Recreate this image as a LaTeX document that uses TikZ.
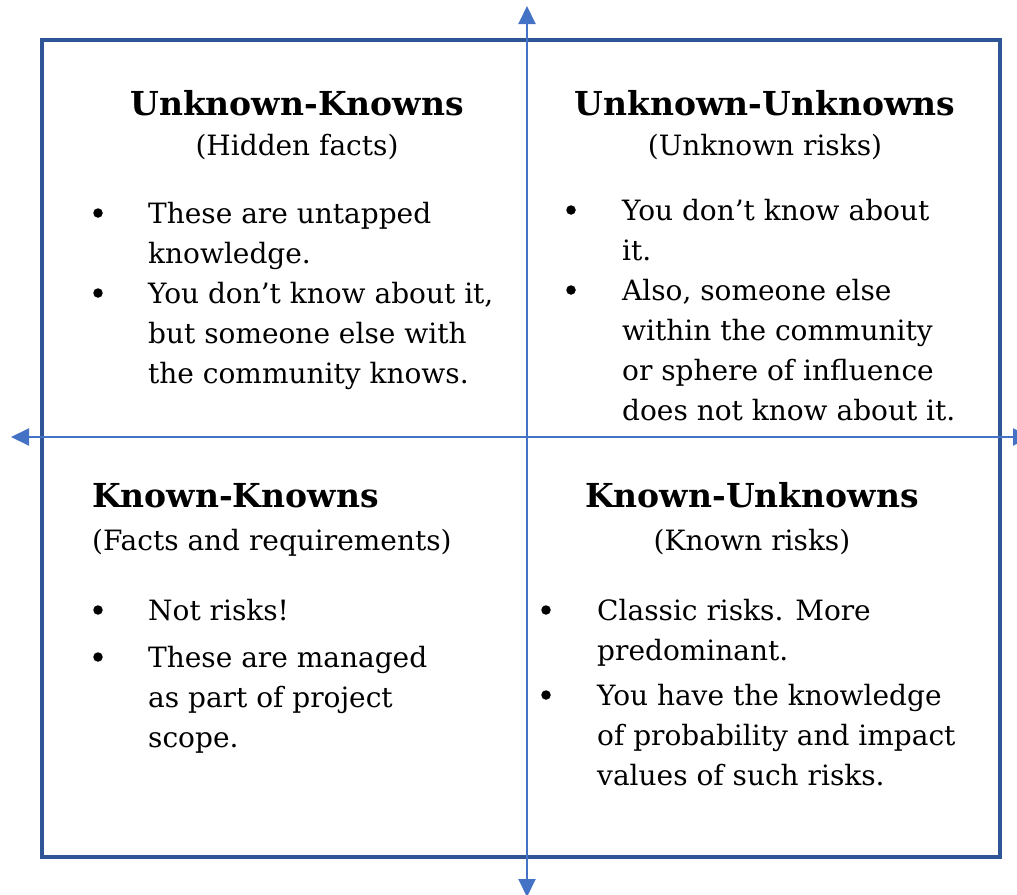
\documentclass[tikz,border=0pt]{standalone}
\usepackage{fontspec}
\setmainfont{DejaVu Serif}
\usetikzlibrary{arrows.meta}
\definecolor{boxblue}{HTML}{2F5597}
\definecolor{axisblue}{HTML}{4472C4}
% first line of a bullet sits on the node's base
\newcommand{\itemlines}[1]{\begin{tabular}[t]{@{}l@{}}#1\end{tabular}}
\tikzset{
  qtitle/.style={font=\fontsize{33}{40}\selectfont\bfseries, inner sep=0pt, anchor=base},
  qsub/.style={font=\fontsize{28}{40}\selectfont, inner sep=0pt, anchor=base},
  qitem/.style={font=\fontsize{28}{40}\selectfont, inner sep=0pt, anchor=base west},
  qdot/.style={circle, fill=black, inner sep=0pt, minimum size=9.5pt},
  axis/.style={axisblue, line width=2pt}
}

\begin{document}
\begin{tikzpicture}[x=1pt,y=-1pt]
    \useasboundingbox (0,0) rectangle (1017,894);
    \draw[boxblue, line width=3.5pt] (42,40) rectangle (1000,857);
    % axes
    \coordinate (top) at (527,6);
    \coordinate (bot) at (527,897);
    \coordinate (lft) at (11,437);
    \coordinate (rgt) at (1031,437);
    \draw[axis, {Triangle[length=18pt,width=17pt]}-{Triangle[length=18pt,width=17pt]}] (bot) -- (top);
    \draw[axis, {Triangle[length=18pt,width=17pt]}-{Triangle[length=18pt,width=17pt]}] (lft) -- (rgt);
    % unknown-knowns
    \node[qtitle] (ukTitle) at (297,115) {Unknown-Knowns};
    \node[qsub] (ukSub) at (297,155) {(Hidden facts)};
    \node[qdot] (ukDotA) at (98,213) {};
    \node[qitem] (ukA) at (148,223) {\itemlines{These are untapped\\knowledge.}};
    \node[qdot] (ukDotB) at (98,293) {};
    \node[qitem] (ukB) at (148,303) {\itemlines{You don’t know about it,\\but someone else with\\the community knows.}};
    % unknown-unknowns
    \node[qtitle] (uuTitle) at (765,115) {Unknown-Unknowns};
    \node[qsub] (uuSub) at (765,155) {(Unknown risks)};
    \node[qdot] (uuDotA) at (571,210) {};
    \node[qitem] (uuA) at (622,220) {\itemlines{You don’t know about\\it.}};
    \node[qdot] (uuDotB) at (571,290) {};
    \node[qitem] (uuB) at (622,300) {\itemlines{Also, someone else\\within the community\\or sphere of influence\\does not know about it.}};
    % known-knowns
    \node[qtitle, anchor=base west] (kkTitle) at (92,507) {Known-Knowns};
    \node[qsub, anchor=base west] (kkSub) at (92,550) {(Facts and requirements)};
    \node[qdot] (kkDotA) at (98,610) {};
    \node[qitem] (kkA) at (148,620) {Not risks!};
    \node[qdot] (kkDotB) at (98,657) {};
    \node[qitem] (kkB) at (148,667) {\itemlines{These are managed\\as part of project\\scope.}};
    % known-unknowns
    \node[qtitle] (kuTitle) at (752,507) {Known-Unknowns};
    \node[qsub] (kuSub) at (752,550) {(Known risks)};
    \node[qdot] (kuDotA) at (546,610) {};
    \node[qitem] (kuA) at (597,620) {\itemlines{Classic risks. More\\predominant.}};
    \node[qdot] (kuDotB) at (546,695) {};
    \node[qitem] (kuB) at (597,705) {\itemlines{You have the knowledge\\of probability and impact\\values of such risks.}};
\end{tikzpicture}
\end{document}
